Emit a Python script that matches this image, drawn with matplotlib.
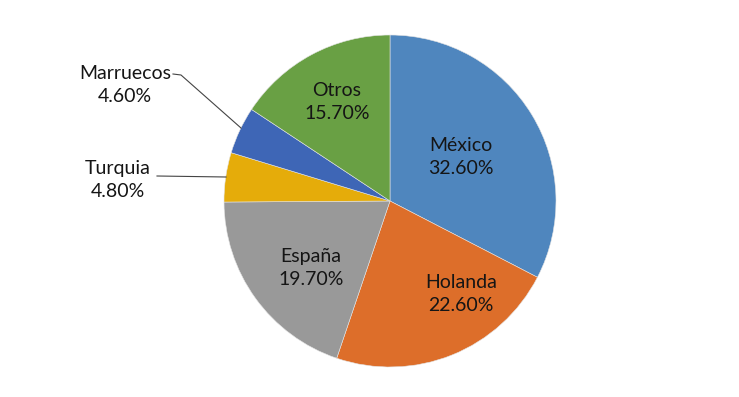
import matplotlib.pyplot as plt

# country shares (%), clockwise from 12 o'clock
countries = ["México", "Holanda", "España", "Turquia", "Marruecos", "Otros"]
shares = [32.6, 22.6, 19.7, 4.8, 4.6, 15.7]
colors = ["#4F86BE", "#DD6E2A", "#999999", "#E5AC0A", "#3E66B6", "#69A044"]

plt.rcParams["font.family"] = ["Lato", "DejaVu Sans"]

fig = plt.figure(figsize=(7.39, 3.97), dpi=100)
ax = fig.add_axes([0, 0, 1, 1])

# pixel frame: pie centre at (390, 201), radius 166 px
cx, cy, r = 390, 201, 166


def to_data(px, py):
    return (px - cx) / r, (cy - py) / r


ax.pie(shares, colors=colors, startangle=90, counterclock=False, radius=1.0,
       wedgeprops=dict(edgecolor="#e4e4e4", linewidth=0.4))

ax.set_xlim((0 - cx) / r, (739 - cx) / r)
ax.set_ylim((cy - 397) / r, cy / r)
ax.set_aspect("auto")
ax.axis("off")

# label positions in pixels (centre of the two-line label)
label_pos = {
    "México": (461, 157),
    "Holanda": (461, 294),
    "España": (311, 268),
    "Otros": (337, 102),
    "Marruecos": (125, 85),
    "Turquia": (118, 180),
}
for name, share in zip(countries, shares):
    x, y = to_data(*label_pos[name])
    ax.text(x, y, f"{name}\n{share:.2f}%", ha="center", va="center",
            fontsize=14, color="#151515", linespacing=1.45)

# leader lines for the small slices
line_kw = dict(color="#444444", lw=0.8)
xs, ys = zip(*[to_data(173, 74), to_data(181, 75), to_data(241, 128)])
ax.plot(xs, ys, **line_kw)
xs, ys = zip(*[to_data(157, 176), to_data(226, 177)])
ax.plot(xs, ys, **line_kw)

fig.savefig("out.png", dpi=100, facecolor="white")
